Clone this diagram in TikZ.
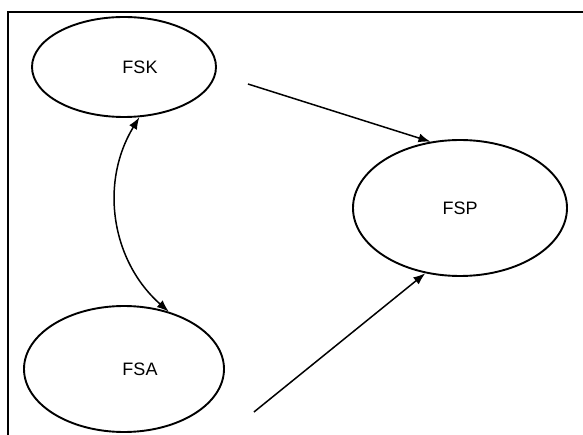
\documentclass[tikz,border=0pt]{standalone}
\usepackage{fontspec}
\setmainfont{Liberation Sans}
\usetikzlibrary{arrows.meta,shapes.geometric}

\begin{document}
\begin{tikzpicture}[x=1pt,y=-1pt]
\tikzstyle{state} = [ellipse, draw, line width=1.9pt, inner sep=0pt,
font=\fontsize{18}{20}\selectfont]
\tikzstyle{line} = [draw, line width=1.5pt, -{Latex[length=12pt,width=9pt]}];
\useasboundingbox (0,0) rectangle (583,435);
\draw [line width=1.9pt] (8,12) rectangle (600,450);
% states
\node [state, minimum width=184pt, minimum height=100pt] (fsk) at (124,67) {\hspace*{32pt}FSK};
\node [state, minimum width=214pt, minimum height=136pt] (fsp) at (460,208) {FSP};
\node [state, minimum width=200pt, minimum height=126pt] (fsa) at (124,369) {\hspace*{32pt}FSA};
% connectors
\tikzstyle{every path}=[line]
\path ([xshift=31pt,yshift=-17pt]fsk.east) -- (fsp.114);
\path ([xshift=29pt,yshift=-43pt]fsa.east) -- (fsp.242);
\path [{Latex[length=12pt,width=9pt]}-{Latex[length=12pt,width=9pt]}] (fsk.-73) to [bend right=40] (fsa.52);
\end{tikzpicture}
\end{document}
